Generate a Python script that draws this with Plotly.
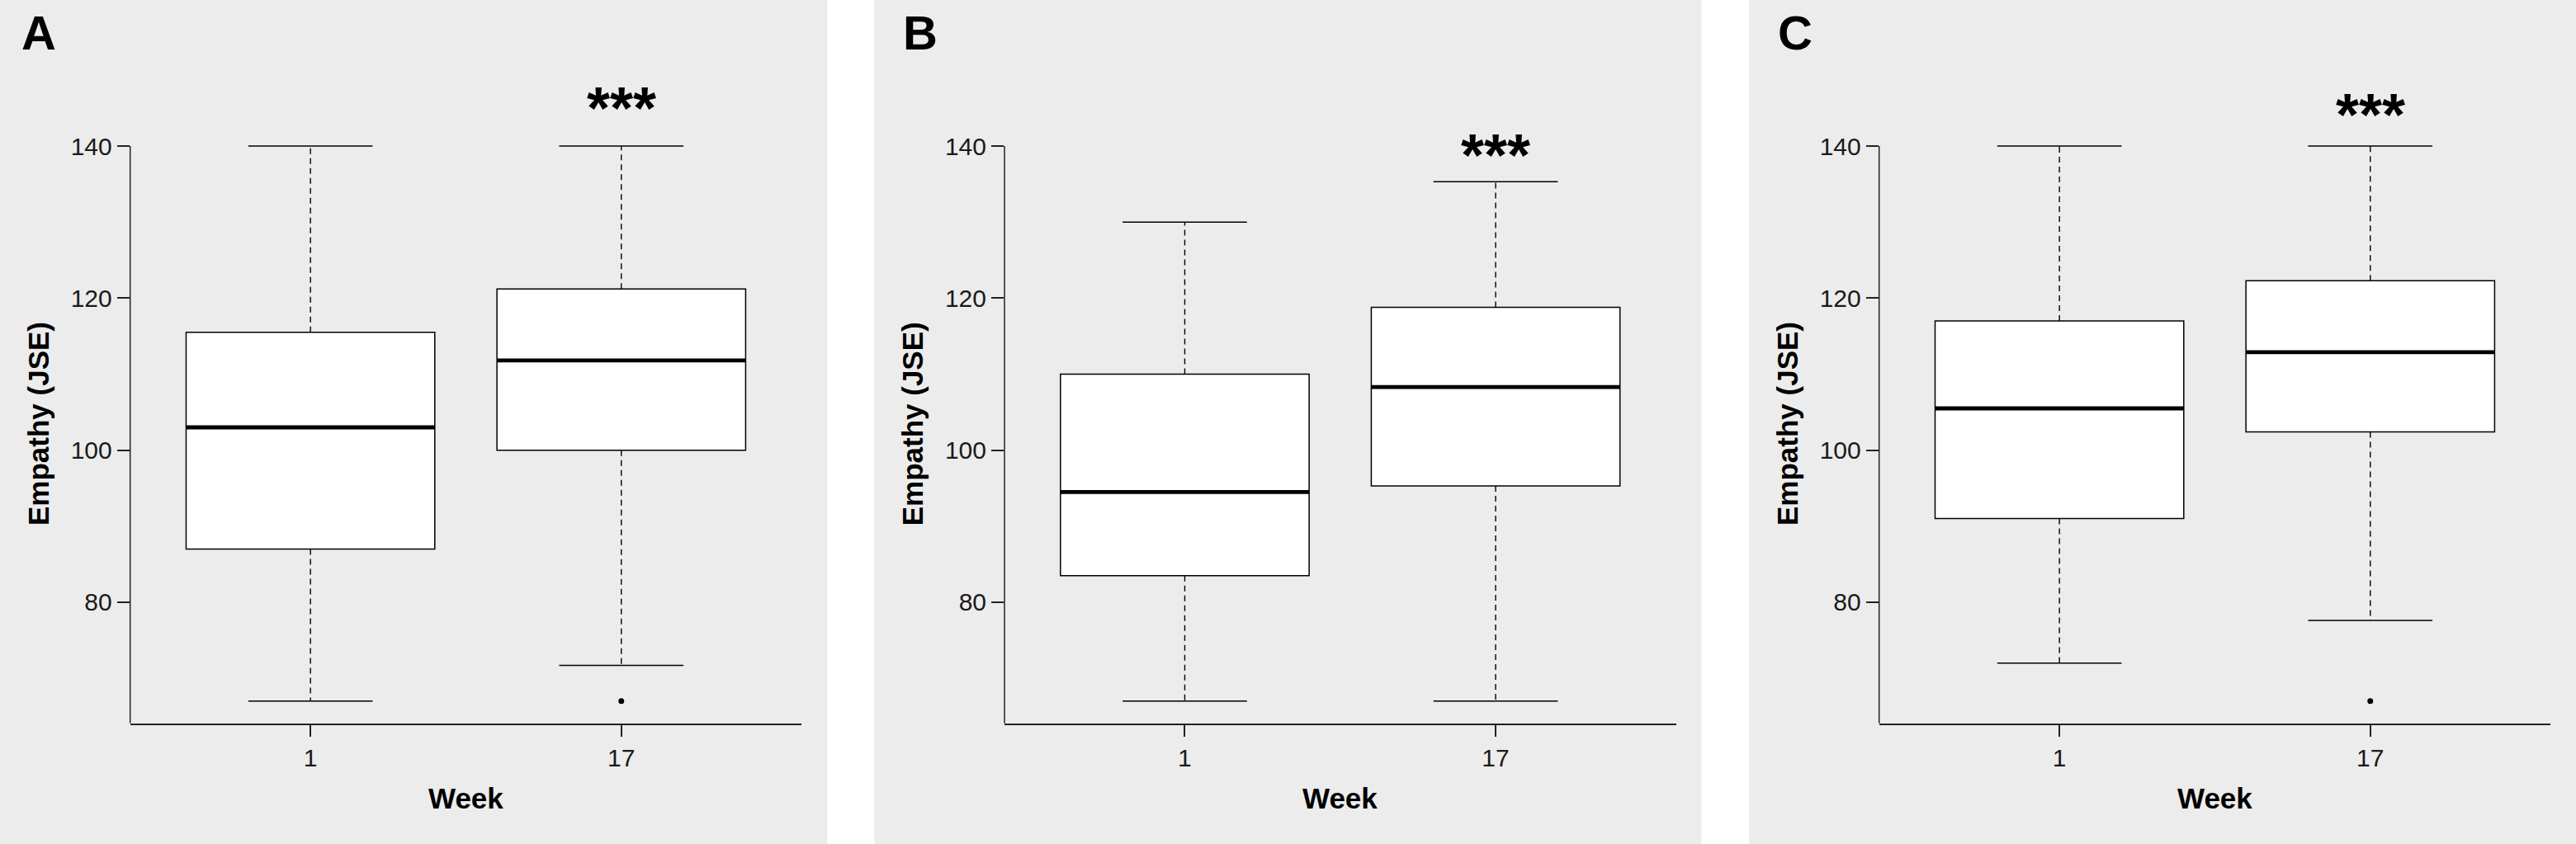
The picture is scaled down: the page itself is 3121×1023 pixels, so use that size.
import plotly.graph_objects as go
from plotly.subplots import make_subplots

# values (week 1, week 17)
panels = ["A", "B", "C"]
weeks = ["1", "17"]
lower_whisker = [[67.0, 71.7], [67.0, 67.0], [72.0, 77.6]]
q1 = [[87.0, 100.0], [83.5, 95.3], [91.0, 102.4]]
median = [[103.0, 111.8], [94.5, 108.3], [105.5, 112.9]]
q3 = [[115.5, 121.2], [110.0, 118.8], [117.0, 122.3]]
upper_whisker = [[140.0, 140.0], [130.0, 135.3], [140.0, 140.0]]
outliers = [[[], [67.0]], [[], []], [[], [67.0]]]
stars_y = [146.2, 140.0, 145.3]
y_ticks = [80, 100, 120, 140]

W, H = 3121, 1023
FONT = "Liberation Sans, Arial, Helvetica, sans-serif"
BG = "#ECECEC"
y_lo, y_top_line, y_hi = 64.08, 140, 148

panel_left = [0, 1059.3, 2119]
panel_w = 1002.3
plot_l, plot_w = 157.7, 813.5
plot_bottom_px, plot_top_px = 876.7, 103.3

fig = make_subplots(rows=1, cols=3)

for i, p in enumerate(panels):
    row, col = 1, i + 1
    for j, wk in enumerate(weeks):
        pos = j + 1
        lo, a, m, b, hi = lower_whisker[i][j], q1[i][j], median[i][j], q3[i][j], upper_whisker[i][j]
        # dashed whiskers
        fig.add_trace(go.Scatter(x=[pos, pos, None, pos, pos], y=[b, hi, None, a, lo],
                                 mode="lines", line=dict(color="black", width=1.4, dash="7px,5px"),
                                 hoverinfo="skip", showlegend=False), row=row, col=col)
        # caps
        fig.add_trace(go.Scatter(x=[pos - 0.2, pos + 0.2, None, pos - 0.2, pos + 0.2],
                                 y=[hi, hi, None, lo, lo], mode="lines",
                                 line=dict(color="black", width=1.5),
                                 hoverinfo="skip", showlegend=False), row=row, col=col)
        # box body
        fig.add_trace(go.Box(x=[pos], q1=[a], median=[m], q3=[b], lowerfence=[a], upperfence=[b],
                             width=0.8, whiskerwidth=0, fillcolor="white",
                             line=dict(color="black", width=1.5), boxpoints=False,
                             hoverinfo="skip", showlegend=False), row=row, col=col)
        # thick median
        fig.add_trace(go.Scatter(x=[pos - 0.4, pos + 0.4], y=[m, m], mode="lines",
                                 line=dict(color="black", width=4.8),
                                 hoverinfo="skip", showlegend=False), row=row, col=col)
        if outliers[i][j]:
            fig.add_trace(go.Scatter(x=[pos] * len(outliers[i][j]), y=outliers[i][j], mode="markers",
                                     marker=dict(color="black", size=7),
                                     hoverinfo="skip", showlegend=False), row=row, col=col)

    x0 = (panel_left[i] + plot_l) / W
    fig.update_xaxes(domain=[x0, x0 + plot_w / W], range=[0.42, 2.58],
                     tickvals=[1, 2], ticktext=weeks, ticks="outside", ticklen=15,
                     tickwidth=1.5, tickcolor="#222", showline=True, linecolor="#222",
                     linewidth=1.5, showgrid=False, zeroline=False,
                     tickfont=dict(family=FONT, size=30, color="#1a1a1a"), row=row, col=col)
    fig.update_yaxes(domain=[1 - plot_bottom_px / H, 1 - plot_top_px / H], range=[y_lo, y_hi],
                     tickvals=y_ticks, ticks="outside", ticklen=15, tickwidth=1.5,
                     tickcolor="#222", showline=False, showgrid=False, zeroline=False,
                     tickfont=dict(family=FONT, size=30, color="#1a1a1a"), row=row, col=col)

    n = "" if i == 0 else str(i + 1)
    # grey panel background
    fig.add_shape(type="rect", xref="paper", yref="paper", layer="below",
                  x0=panel_left[i] / W, x1=min((panel_left[i] + panel_w) / W, 1), y0=0, y1=1,
                  fillcolor=BG, line=dict(width=0))
    # y axis line from bottom to 140
    fig.add_shape(type="line", xref=f"x{n} domain", yref=f"y{n}", x0=0, x1=0,
                  y0=y_lo, y1=y_top_line, line=dict(color="#222", width=1.5))
    # significance stars
    fig.add_annotation(x=2, y=stars_y[i], xref=f"x{n}", yref=f"y{n}", text="***",
                       showarrow=False, yshift=-11, xanchor="center", yanchor="middle",
                       font=dict(family=FONT, size=72, color="black", weight="bold"))
    # panel letter
    fig.add_annotation(x=(panel_left[i] + (24 if i == 0 else 33)) / W, y=1 - 40 / H,
                       xref="paper", yref="paper", text=p, showarrow=False,
                       xanchor="left", yanchor="middle",
                       font=dict(family=FONT, size=58, color="black", weight="bold"))
    # axis titles
    fig.add_annotation(x=(panel_left[i] + 46) / W, y=1 - 514 / H, xref="paper", yref="paper",
                       text="Empathy (JSE)", textangle=-90, showarrow=False,
                       xanchor="center", yanchor="middle",
                       font=dict(family=FONT, size=35, color="black", weight="bold"))
    fig.add_annotation(x=x0 + plot_w / W / 2, y=1 - 967 / H, xref="paper", yref="paper",
                       text="Week", showarrow=False, xanchor="center", yanchor="middle",
                       font=dict(family=FONT, size=35, color="black", weight="bold"))

fig.update_layout(width=W, height=H, margin=dict(l=0, r=0, t=0, b=0),
                  paper_bgcolor="white", plot_bgcolor=BG, showlegend=False,
                  font=dict(family=FONT))

fig.write_html("out.html", config={"displayModeBar": False},
               post_script="document.body.style.margin='0';")
